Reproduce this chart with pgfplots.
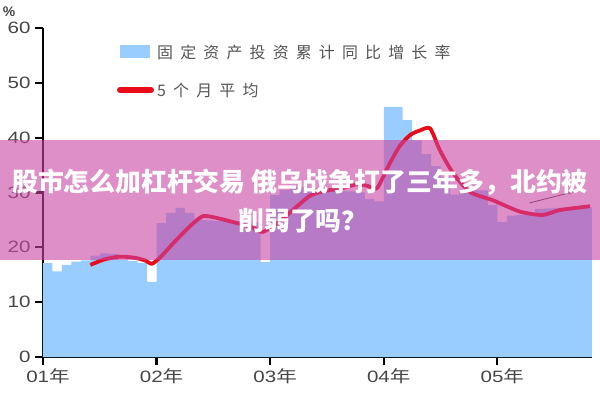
\documentclass[border=0pt]{standalone}
\usepackage{fontspec}
\setmainfont{Liberation Sans}
\newfontfamily\cjk{Noto Sans CJK SC}
\newfontfamily\cjkwide[LetterSpace=45]{Noto Sans CJK SC}
\usepackage{pgfplots}
\pgfplotsset{compat=1.18}
\usetikzlibrary{arrows.meta}
\definecolor{barblue}{RGB}{153,204,255}
\definecolor{linered}{RGB}{232,12,24}
\definecolor{bandpink}{RGB}{202,68,162}
\definecolor{ticktxt}{RGB}{70,70,70}
\definecolor{legtxt}{RGB}{85,85,85}
\begin{document}
\begin{tikzpicture}
\path[use as bounding box] (-43bp,-43bp) rectangle (557bp,357bp);
\begin{axis}[
  at={(0bp,0bp)}, anchor=south west,
  scale only axis, width=549bp, height=329bp,
  xmin=0, xmax=58, ymin=0, ymax=60,
  axis lines*=left,
  axis line style={line width=2.6bp, black, -},
  xtick={0,12,24,36,48},
  xticklabels={01{\cjk 年},02{\cjk 年},03{\cjk 年},04{\cjk 年},05{\cjk 年}},
  ytick={0,10,20,30,40,50,60},
  tick align=outside, major tick length=8bp,
  tick style={line width=2.2bp, black},
  tick label style={font=\fontsize{16.5}{18}\selectfont, text=ticktxt, xscale=1.25},
  xticklabel style={xshift=4bp},
  /pgf/number format/assume math mode=true,
  clip=false,
]
\addplot[const plot, fill=barblue, draw=none] coordinates {
(0,17.1) (1,15.6) (2,16.8) (3,17.4) (4,17.6) (5,18.5) (6,18.9) (7,18.8) (8,17.7) (9,17.5) (10,17.1) (11,13.7)
(12,24.4) (13,26.3) (14,27.2) (15,26.3) (16,25.0) (17,24.9) (18,24.8) (19,24.8) (20,24.7) (21,24.6) (22,24.5) (23,17.3)
(24,29.5) (25,30.5) (26,31.0) (27,31.0) (28,30.8) (29,30.6) (30,30.5) (31,30.3) (32,30.2) (33,30.0) (34,28.8) (35,28.4)
(36,45.6) (37,45.6) (38,43.2) (39,39.5) (40,37.0) (41,34.8) (42,32.8) (43,29.6) (44,30.6) (45,30.5) (46,30.4) (47,27.7)
(48,24.6) (49,25.8) (50,25.9) (51,26.0) (52,27.0) (53,27.1) (54,27.2) (55,27.2) (56,27.2) (57,27.3) (58,27.3)
} \closedcycle;
\addplot[linered, line width=3.8bp, smooth, tension=0.4, line join=round] coordinates {
(5.0,16.8) (6.5,17.8) (8.1,18.3) (9.7,18.1) (10.8,17.6) (11.5,17.0) (12.4,18.2) (13.9,21.0) (15.5,23.8) (16.9,25.7)
(18.5,25.3) (20.1,24.6) (21.9,23.8) (23.2,22.8) (24.8,24.5) (26.4,26.8) (28.2,29.4) (29.8,30.3) (31.4,30.7) (33.2,31.5)
(34.3,31.2) (35.3,30.8) (36.6,35.2) (37.7,38.5) (38.8,40.5) (39.8,41.3) (40.9,41.7) (41.9,37.8) (43.3,33.6) (45.1,30.1)
(47.5,28.6) (50.4,26.5) (52.8,25.9) (54.6,26.8) (57.8,27.5)
};
\addplot[black!75, line width=0.8bp, -{Stealth[length=4bp,width=3bp]}] coordinates {(51.4,28.1) (56.0,30.1)};
\end{axis}
% legend
\fill[barblue] (77bp,299bp) rectangle (107bp,312bp);
\draw[linered, line width=6bp, line cap=round] (77bp,267bp) -- (108bp,267bp);
\node[anchor=west, inner sep=0pt, text=legtxt, font=\cjkwide\fontsize{16}{18}\selectfont] at (114bp,305bp) {固定资产投资累计同比增长率};
\node[anchor=west, inner sep=0pt, text=legtxt, font=\cjkwide\fontsize{16}{18}\selectfont] at (114bp,267bp) {5个月平均};
\node[text=ticktxt, inner sep=0pt, font=\fontsize{14}{16}\selectfont\bfseries] at (-34bp,345bp) {\%};
% overlay band
\fill[bandpink, opacity=0.6] (-43bp,97bp) rectangle (557bp,217bp);
\node[text=white, inner sep=0pt, font=\cjk\bfseries\fontsize{26}{30}\selectfont] at (257bp,175bp) {股市怎么加杠杆交易 俄乌战争打了三年多，北约被};
\node[text=white, inner sep=0pt, font=\cjk\bfseries\fontsize{26}{30}\selectfont] at (260bp,136bp) {削弱了吗？};
\end{tikzpicture}
\end{document}
